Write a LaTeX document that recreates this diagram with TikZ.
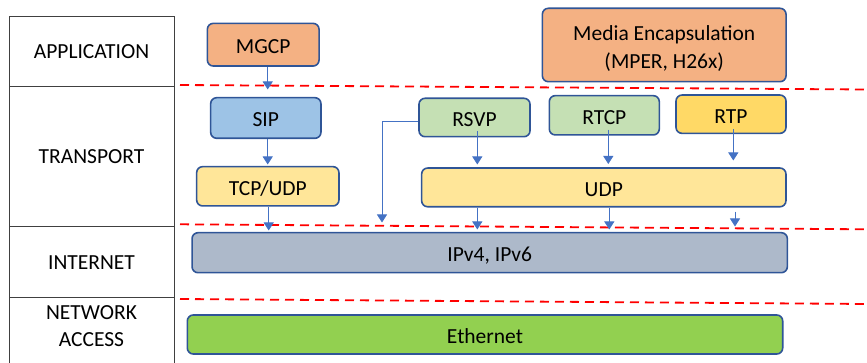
\documentclass[tikz,border=0pt]{standalone}
\usepackage{fontspec}
\setmainfont{Carlito}
\usetikzlibrary{arrows.meta}

\definecolor{boxline}{HTML}{2F5597}
\definecolor{arrowblue}{HTML}{4472C4}
\definecolor{orangefill}{HTML}{F4B183}
\definecolor{bluefill}{HTML}{9DC3E6}
\definecolor{yellowfill}{HTML}{FFE699}
\definecolor{goldfill}{HTML}{FFD966}
\definecolor{greenfill}{HTML}{C5E0B4}
\definecolor{greyfill}{HTML}{ADB9CA}
\definecolor{limefill}{HTML}{92D050}

\tikzset{
  proto/.style={draw=boxline,line width=1.6pt,rounded corners=6pt,inner sep=0pt,
    align=center,text height=18pt,text depth=0pt,font=\fontsize{21.5}{28.4}\selectfont},
  layer/.style={draw=black!75,line width=0.9pt,inner sep=0pt,align=center,
    font=\fontsize{21.5}{27}\selectfont},
  arr/.style={arrowblue,line width=0.9pt,-{Triangle[length=8pt,width=10pt]}},
  border/.style={red,line width=1.8pt,dash pattern=on 9pt off 6pt}
}

\begin{document}
\begin{tikzpicture}[x=1pt,y=-1pt]
\useasboundingbox (0,0) rectangle (867,363);
%%% layer names %%%

  \node (app) at (91.5,51.7) [layer,minimum width=165,minimum height=70] {APPLICATION};
  \node (trans) at (91.5,156.7) [layer,minimum width=165,minimum height=140] {TRANSPORT};
  \node (inet) at (91.5,262.2) [layer,minimum width=165,minimum height=71] {INTERNET};
  \node (netacc) at (91.5,331) [layer,minimum width=165,minimum height=66.6] {};
  \node (netacclbl) at (91.5,325.7) [layer,draw=none] {NETWORK\\ACCESS};

%%% layer borders %%%
\draw[border] (180,85) -- (867,89.5);
\draw[border] (180,224.3) -- (867,229.3);
\draw[border] (180,299) -- (867,304);

%%% protocols %%%
  \node (MGCP) at (263.2,44.7) [proto,fill=orangefill,minimum width=111.7,minimum height=42.7] {MGCP};
  \node (Media) at (664.2,45) [proto,fill=orangefill,minimum width=243.7,minimum height=73.4,
    text height=47pt] {Media Encapsulation\\(MPER, H26x)};
  \node (SIP) at (265.8,118) [proto,fill=bluefill,minimum width=110.3,minimum height=40.6] {SIP};
  \node (TCPUDP) at (267.8,186.3) [proto,fill=yellowfill,minimum width=142.3,minimum height=39.3] {TCP/UDP};
  \node (RSVP) at (474.5,117.5) [proto,fill=greenfill,minimum width=111,minimum height=38.4] {RSVP};
  \node (RTCP) at (604.3,115.3) [proto,fill=greenfill,minimum width=110,minimum height=39.3] {RTCP};
  \node (RTP) at (731,114.2) [proto,fill=goldfill,minimum width=110,minimum height=38.3] {RTP};
  \node (UDP) at (603.8,187.4) [proto,fill=yellowfill,minimum width=364.3,minimum height=38.7] {UDP};
  \node (IP) at (489.7,252.7) [proto,fill=greyfill,minimum width=595.3,minimum height=40] {IPv4, IPv6};
  \node (Eth) at (485,334.5) [proto,fill=limefill,minimum width=595.4,minimum height=39] {Ethernet};

%%% arrow tips %%%
  \coordinate (tMGCP) at (267.7,89.5);
  \coordinate (tSIP) at (267.7,164.5);
  \coordinate (tTCP) at (268.7,230.5);
  \coordinate (tRSVPbypass) at (382,222.5);
  \coordinate (tRSVP) at (477.3,164.5);
  \coordinate (tRTCP) at (608.3,164);
  \coordinate (tRTP) at (733.3,160.5);
  \coordinate (tUDPa) at (477.3,229.5);
  \coordinate (tUDPb) at (609.3,229.5);
  \coordinate (tUDPc) at (735,226.5);

\draw[arr] (MGCP.south -| tMGCP) -- (tMGCP);
\draw[arr] (SIP.south -| tSIP) -- (tSIP);
\draw[arr] (TCPUDP.south -| tTCP) -- (tTCP);
\draw[arr] ([yshift=-3.5]RSVP.west) -| (tRSVPbypass);
\draw[arr] ([yshift=6]RSVP.south -| tRSVP) -- (tRSVP);
\draw[arr] ([yshift=6]RTCP.south -| tRTCP) -- (tRTCP);
\draw[arr] ([yshift=5]RTP.south -| tRTP) -- (tRTP);
\draw[arr] (UDP.south -| tUDPa) -- (tUDPa);
\draw[arr] (UDP.south -| tUDPb) -- (tUDPb);
\draw[arr] ([yshift=-4]UDP.south -| tUDPc) -- (tUDPc);
\end{tikzpicture}
\end{document}
